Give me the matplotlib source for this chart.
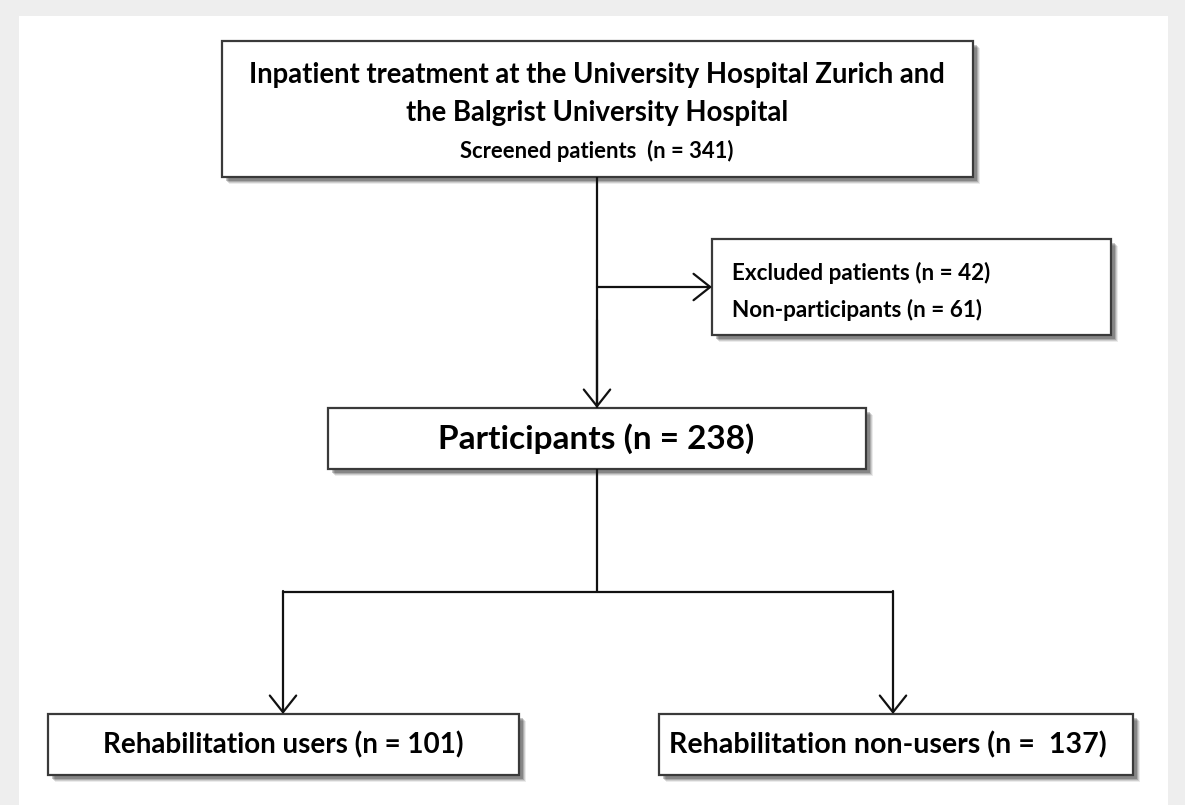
import matplotlib.pyplot as plt
from matplotlib.patches import Rectangle, FancyArrowPatch

# Flow counts
screened = 341
excluded = 42
non_participants = 61
participants = 238
rehab_users = 101
rehab_non_users = 137

header_lines = ["Inpatient treatment at the University Hospital Zurich and",
                "the Balgrist University Hospital"]

plt.rcParams['font.family'] = ['Lato', 'DejaVu Sans']

fig = plt.figure(figsize=(11.85, 8.05), dpi=100, facecolor='#eeeeee')
ax = fig.add_axes([0, 0, 1, 1])
ax.set_xlim(0, 1185)
ax.set_ylim(805, 0)
ax.axis('off')

# white panel
ax.add_patch(Rectangle((19, 16), 1149, 800, facecolor='white', edgecolor='none', zorder=0))


def box(x0, y0, x1, y1):
    # soft drop shadow
    for k, a in enumerate([0.08, 0.12, 0.16, 0.22]):
        off = 7 - k
        ax.add_patch(Rectangle((x0 + off, y0 + off), x1 - x0, y1 - y0,
                               facecolor='#000000', alpha=a, edgecolor='none', zorder=1))
    ax.add_patch(Rectangle((x0, y0), x1 - x0, y1 - y0, facecolor='white',
                           edgecolor='#3a3a3a', lw=1.6, zorder=2))


def arrow(x0, y0, x1, y1):
    ax.add_patch(FancyArrowPatch((x0, y0), (x1, y1), arrowstyle='->,head_length=1.2,head_width=0.95',
                                 color='#111111', lw=1.6, shrinkA=0, shrinkB=0,
                                 mutation_scale=10, zorder=3))


def line(xs, ys):
    ax.plot(xs, ys, color='#111111', lw=1.6, zorder=3, solid_capstyle='butt')


# boxes
box(222, 41, 973, 177)
box(712, 239, 1111, 335)
box(328, 408, 866, 469)
box(48, 714, 519, 775)
box(659, 714, 1133, 775)

# connectors
line([597, 597], [177, 408])
arrow(597, 320, 597, 408)
arrow(597, 287, 712, 287)
line([597, 597], [469, 592])
line([283, 893], [592, 592])
arrow(283, 591, 283, 714)
arrow(893, 591, 893, 714)

ax.text(597, 75, header_lines[0], ha='center', va='center', fontsize=19.8, fontweight='bold', zorder=4)
ax.text(597, 113, header_lines[1], ha='center', va='center', fontsize=19.8, fontweight='bold', zorder=4)
ax.text(597, 151, f"Screened patients  (n = {screened})", ha='center', va='center',
        fontsize=15.8, fontweight='bold', zorder=4)
ax.text(732, 273, f"Excluded patients (n = {excluded})", ha='left', va='center',
        fontsize=16.2, fontweight='bold', zorder=4)
ax.text(732, 310, f"Non-participants (n = {non_participants})", ha='left', va='center',
        fontsize=16.2, fontweight='bold', zorder=4)
ax.text(596, 439, f"Participants (n = {participants})", ha='center', va='center',
        fontsize=24, fontweight='bold', zorder=4)
ax.text(283, 745, f"Rehabilitation users (n = {rehab_users})", ha='center', va='center',
        fontsize=20, fontweight='bold', zorder=4)
ax.text(888, 745, f"Rehabilitation non-users (n =  {rehab_non_users})", ha='center', va='center',
        fontsize=20.6, fontweight='bold', zorder=4)

fig.savefig('out.png', dpi=100, facecolor=fig.get_facecolor())
